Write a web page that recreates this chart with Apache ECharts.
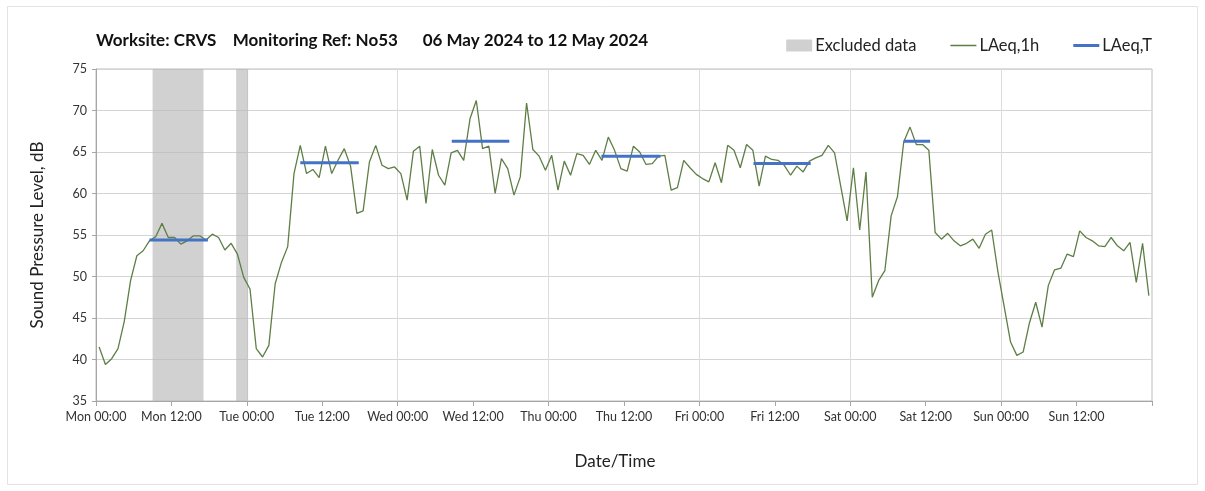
<!DOCTYPE html>
<html>
<head>
<meta charset="utf-8">
<script src="https://cdn.jsdelivr.net/npm/echarts@6/dist/echarts.min.js"></script>
<style>
html,body{margin:0;padding:0;background:#fff;}
#chart{width:1205px;height:491px;}
</style>
</head>
<body>
<div id="chart"></div>
<script>
// Hourly LAeq,1h values, Mon 00:00 (hour 0) to Sun 23:00 (hour 167)
const laeq1h = [
  41.5,39.4,40.1,41.3,44.6,49.5,52.5,53.1,54.3,54.8,56.4,54.7,54.7,53.9,54.3,54.9,54.9,54.4,55.1,54.7,53.2,54.0,52.7,49.9,
  48.5,41.3,40.3,41.7,49.1,51.7,53.6,62.4,65.8,62.4,62.9,61.9,65.7,62.4,64.0,65.4,63.3,57.6,57.9,63.8,65.8,63.4,63.0,63.2,
  62.4,59.2,65.1,65.7,58.8,65.3,62.2,61.0,64.9,65.2,64.0,69.0,71.2,65.4,65.7,60.0,64.2,63.0,59.8,62.0,70.9,65.3,64.5,62.8,
  64.6,60.4,63.9,62.2,64.8,64.6,63.5,65.2,64.0,66.8,65.2,63.0,62.7,65.7,65.0,63.5,63.6,64.5,64.6,60.4,60.7,64.0,63.1,62.3,
  61.8,61.4,63.7,61.3,65.8,65.2,63.1,65.9,65.2,60.9,64.5,64.1,64.0,63.4,62.2,63.3,62.6,63.9,64.3,64.6,65.8,64.9,60.8,56.7,
  63.1,55.6,62.6,47.5,49.5,50.7,57.3,59.6,66.2,68.0,65.9,65.9,65.2,55.3,54.5,55.2,54.3,53.7,54.0,54.5,53.4,55.1,55.6,50.5,
  46.3,42.1,40.5,40.9,44.4,46.9,43.9,48.9,50.8,51.0,52.7,52.4,55.5,54.7,54.3,53.7,53.6,54.7,53.7,53.1,54.1,49.3,54.0,47.7
];
// LAeq,T periods (hours from Mon 00:00) and levels
const laeqTStart = [8.5, 32.5, 56.6, 80.4, 104.6, 128.5];
const laeqTEnd   = [17.8, 41.8, 65.75, 89.8, 113.7, 132.7];
const laeqTValue = [54.4, 63.7, 66.3, 64.5, 63.6, 66.3];
// Excluded data periods (hours)
const excludedStart = [9, 22.3];
const excludedEnd   = [17.1, 24.2];
// X tick labels every 12 hours
const tickLabels = ['Mon 00:00','Mon 12:00','Tue 00:00','Tue 12:00','Wed 00:00','Wed 12:00','Thu 00:00',
  'Thu 12:00','Fri 00:00','Fri 12:00','Sat 00:00','Sat 12:00','Sun 00:00','Sun 12:00'];

const FONT = 'Lato, "Open Sans", sans-serif';
const GREEN = '#5e7e45', BLUE = '#4472c4';
const chart = echarts.init(document.getElementById('chart'), null, {renderer:'canvas'});

const series = [
  {
    name: 'Excluded data', type: 'line', data: [], symbol: 'none',
    itemStyle: {color: '#d0d0d0'}, lineStyle: {color: '#d0d0d0'},
    markArea: {
      silent: true,
      itemStyle: {color: 'rgb(185,185,185)', opacity: 0.65},
      data: excludedStart.map((s, i) => [{xAxis: s}, {xAxis: excludedEnd[i]}])
    },
    z: 1
  },
  {
    name: 'LAeq,1h', type: 'line', symbol: 'none',
    data: laeq1h.map((v, i) => [i + 0.5, v]),
    lineStyle: {color: GREEN, width: 1.3},
    itemStyle: {color: GREEN},
    z: 3
  }
];
laeqTStart.forEach((s, i) => {
  series.push({
    name: 'LAeq,T', type: 'line', symbol: 'none',
    data: [[s, laeqTValue[i]], [laeqTEnd[i], laeqTValue[i]]],
    lineStyle: {color: BLUE, width: 3},
    itemStyle: {color: BLUE},
    z: 4
  });
});

// legend line icons: a horizontal band, with invisible zero-area corners fixing the bounding box
const lineIcon = (t) => 'path://M0,0L0,0.001M26,12L26,12.001M0,' + (6 - t / 2) + 'L26,' + (6 - t / 2) + 'L26,' + (6 + t / 2) + 'L0,' + (6 + t / 2) + 'Z';

chart.setOption({
  animation: false,
  backgroundColor: '#fff',
  textStyle: {fontFamily: FONT},
  title: {
    text: 'Worksite: CRVS\u00a0\u00a0\u00a0\u00a0Monitoring Ref: No53\u00a0\u00a0\u00a0\u00a0\u00a0\u00a006 May 2024 to 12 May 2024',
    left: 96, top: 32, padding: 0,
    textStyle: {fontFamily: FONT, fontWeight: 'bold', fontSize: 17, color: '#111'}
  },
  legend: {
    right: 48, top: 32,
    itemWidth: 26, itemHeight: 12, itemGap: 34,
    textStyle: {fontFamily: FONT, fontSize: 16.5, color: '#222', padding: [0,0,0,-2]},
    data: [
      {name: 'Excluded data', icon: 'rect', itemStyle: {color: '#d0d0d0', borderWidth: 0}},
      {name: 'LAeq,1h', icon: lineIcon(1.3), itemStyle: {color: GREEN, borderWidth: 0}},
      {name: 'LAeq,T', icon: lineIcon(3), itemStyle: {color: BLUE, borderWidth: 0}}
    ]
  },
  graphic: [{
    type: 'rect', shape: {x: 7.5, y: 6.5, width: 1190, height: 478},
    style: {fill: 'none', stroke: '#e3e3e3', lineWidth: 1}, silent: true, z: -1
  }],
  grid: {left: 96, right: 53, top: 69, bottom: 90, show: true, borderColor: '#bdbdbd', borderWidth: 1, backgroundColor: 'transparent'},
  xAxis: [
    {
      type: 'value', min: 0, max: 168, interval: 12,
      name: 'Date/Time', nameLocation: 'middle', nameGap: 52,
      nameTextStyle: {fontFamily: FONT, fontSize: 17, color: '#222', padding: [0, 18, 0, 0]},
      axisLine: {show: true, lineStyle: {color: '#a6a6a6'}},
      axisTick: {show: true, length: 5, lineStyle: {color: '#a6a6a6'}},
      axisLabel: {
        fontFamily: FONT, fontSize: 12.5, color: '#333', margin: 9,
        formatter: v => tickLabels[Math.round(v / 12)] || ''
      },
      splitLine: {show: false}
    },
    {
      type: 'value', min: 0, max: 168, interval: 24, position: 'bottom',
      axisLine: {show: false}, axisTick: {show: false}, axisLabel: {show: false},
      splitLine: {show: true, lineStyle: {color: '#dcdcdc', width: 1}}
    }
  ],
  yAxis: {
    type: 'value', min: 35, max: 75, interval: 5,
    name: 'Sound Pressure Level, dB', nameLocation: 'middle', nameGap: 50,
    nameTextStyle: {fontFamily: FONT, fontSize: 17, color: '#222'},
    axisLine: {show: true, lineStyle: {color: '#a6a6a6'}},
    axisTick: {show: true, length: 4, lineStyle: {color: '#a6a6a6'}},
    axisLabel: {fontFamily: FONT, fontSize: 12.5, color: '#333', margin: 9},
    splitLine: {show: true, lineStyle: {color: '#d4d4d4', width: 1}}
  },
  series: series
});
</script>
</body>
</html>
